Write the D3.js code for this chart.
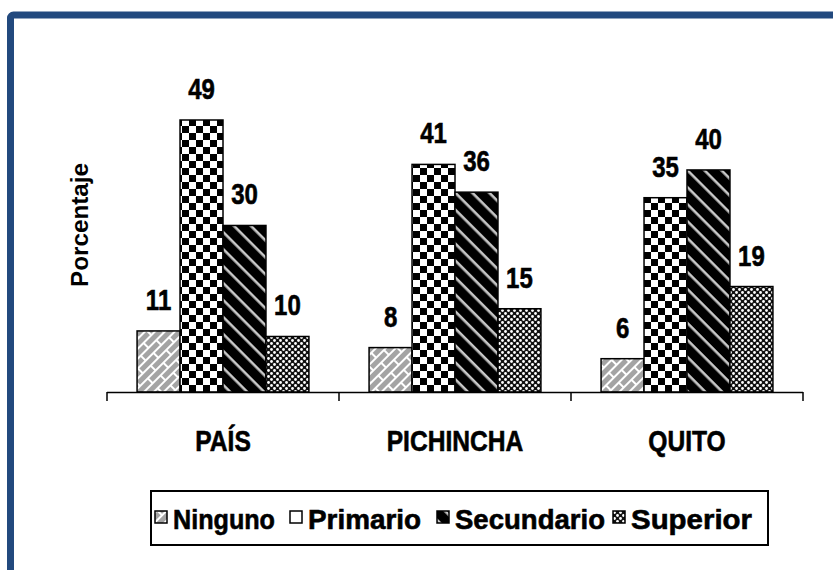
<!DOCTYPE html>
<html>
<meta charset="utf-8">
<style>
body { margin: 0; background: #fff; }
.lbl { font-family: "Liberation Sans", Arial, sans-serif; font-weight: bold; fill: #000; }
.heavy { stroke: #000; stroke-width: 0.6px; }
</style>
<svg id="chart" width="833" height="570"></svg>
<script src="https://d3js.org/d3.v7.min.js"></script>
<script>

var categories = ["PAÍS", "PICHINCHA", "QUITO"];
var series = ["Ninguno", "Primario", "Secundario", "Superior"];
var ninguno    = [11, 8, 6];
var primario   = [49, 41, 35];
var secundario = [30, 36, 40];
var superior   = [10, 15, 19];
var values = [ninguno, primario, secundario, superior];

var svg = d3.select("#chart");

// blue frame, runs off the right and bottom edge
svg.append("rect")
    .attr("x", 10.5).attr("y", 15).attr("rx", 3)
    .attr("width", 900).attr("height", 700)
    .attr("fill", "#fff")
    .attr("stroke", "#22497e")
    .attr("stroke-width", 7);

var defs = svg.append("defs");

// Ninguno: grey with white diagonal brick lines
var p1 = defs.append("pattern").attr("id", "p-ninguno")
    .attr("patternUnits", "userSpaceOnUse").attr("width", 22).attr("height", 14)
    .attr("patternTransform", "rotate(-45)");
p1.append("rect").attr("width", 22).attr("height", 14).attr("fill", "#a4a4a4");
p1.append("path").attr("d", "M0,1H22M0,8H22M2,1V8M13,8V15")
    .attr("stroke", "#fff").attr("stroke-width", 2).attr("fill", "none");

// Primario: checkerboard
var p2 = defs.append("pattern").attr("id", "p-primario")
    .attr("patternUnits", "userSpaceOnUse").attr("width", 14).attr("height", 14);
p2.append("rect").attr("width", 14).attr("height", 14).attr("fill", "#fff");
p2.append("rect").attr("width", 7).attr("height", 7).attr("fill", "#000");
p2.append("rect").attr("x", 7).attr("y", 7).attr("width", 7).attr("height", 7).attr("fill", "#000");

// Secundario: black with light diagonal stripes
var p3 = defs.append("pattern").attr("id", "p-secundario")
    .attr("patternUnits", "userSpaceOnUse").attr("width", 12).attr("height", 12)
    .attr("patternTransform", "rotate(45)");
p3.append("rect").attr("width", 12).attr("height", 12).attr("fill", "#000");
p3.append("rect").attr("y", 5).attr("width", 12).attr("height", 2.6).attr("fill", "#c8c8c8");

// Superior: fine dots
var p4 = defs.append("pattern").attr("id", "p-superior")
    .attr("patternUnits", "userSpaceOnUse").attr("width", 6).attr("height", 6);
p4.append("rect").attr("width", 6).attr("height", 6).attr("fill", "#111");
p4.append("circle").attr("cx", 1.5).attr("cy", 1.5).attr("r", 1.4).attr("fill", "#fff");
p4.append("circle").attr("cx", 4.5).attr("cy", 4.5).attr("r", 1.4).attr("fill", "#fff");

var fills = ["url(#p-ninguno)", "url(#p-primario)", "url(#p-secundario)", "url(#p-superior)"];

var x0 = d3.scaleBand().domain(categories).range([107, 803]).paddingInner(0).paddingOuter(0);
var x1 = d3.scaleBand().domain(series).range([0, x0.bandwidth()]).paddingInner(0).paddingOuter(0.7);
var y = d3.scaleLinear().domain([0, 49]).range([392, 120]);

var rows = [];
categories.forEach(function(c, i) {
  series.forEach(function(s, j) {
    rows.push({cat: c, key: s, idx: j, v: values[j][i]});
  });
});

var bars = svg.append("g");
bars.selectAll("rect")
  .data(rows)
  .enter().append("rect")
    .attr("x", function(d) { return x0(d.cat) + x1(d.key); })
    .attr("y", function(d) { return y(d.v); })
    .attr("width", x1.bandwidth())
    .attr("height", function(d) { return y(0) - y(d.v); })
    .attr("fill", function(d) { return fills[d.idx]; })
    .attr("stroke", "#000")
    .attr("stroke-width", 1.5);

// narrow bold look: squeeze Liberation Sans horizontally
svg.append("g").selectAll("text")
  .data(rows)
  .enter().append("text")
    .attr("class", "lbl heavy")
    .attr("transform", function(d) {
      return "translate(" + (x0(d.cat) + x1(d.key) + x1.bandwidth() / 2) + "," + (y(d.v) - 21) + ") scale(0.8,1)";
    })
    .attr("text-anchor", "middle")
    .style("font-size", "30px")
    .text(function(d) { return d.v; });

// x axis: domain line + ticks on band boundaries
var axis = svg.append("g");
axis.append("line")
    .attr("x1", x0.range()[0]).attr("x2", x0.range()[1])
    .attr("y1", y(0) + 0.5).attr("y2", y(0) + 0.5)
    .attr("stroke", "#000").attr("stroke-width", 1.5);
var bounds = categories.map(function(c) { return x0(c); }).concat([x0.range()[1]]);
axis.selectAll(".tick")
  .data(bounds)
  .enter().append("line")
    .attr("class", "tick")
    .attr("x1", function(d) { return d; }).attr("x2", function(d) { return d; })
    .attr("y1", y(0)).attr("y2", y(0) + 9)
    .attr("stroke", "#000").attr("stroke-width", 1.5);
axis.selectAll(".cat")
  .data(categories)
  .enter().append("text")
    .attr("class", "lbl heavy")
    .attr("transform", function(d) {
      return "translate(" + (x0(d) + x0.bandwidth() / 2) + ",451) scale(0.82,1)";
    })
    .attr("text-anchor", "middle")
    .style("font-size", "30px")
    .text(function(d) { return d; });

svg.append("text")
    .attr("class", "lbl")
    .attr("transform", "translate(88,225) rotate(-90)")
    .attr("text-anchor", "middle")
    .attr("textLength", 124)
    .attr("lengthAdjust", "spacingAndGlyphs")
    .style("font-size", "24px")
    .text("Porcentaje");

// legend
var legendX = [155, 290, 437, 613];
var legendW = [102, 113, 150, 121];
var legend = svg.append("g");
legend.append("rect")
    .attr("x", 151).attr("y", 491).attr("width", 617).attr("height", 54)
    .attr("fill", "none").attr("stroke", "#000").attr("stroke-width", 2);

var item = legend.selectAll(".item")
  .data(series)
  .enter().append("g")
    .attr("class", "item")
    .attr("transform", function(d, i) { return "translate(" + legendX[i] + ",511)"; });
item.append("rect")
    .attr("width", 12).attr("height", 12)
    .attr("fill", function(d, i) { return i === 1 ? "#fff" : fills[i]; })
    .attr("stroke", "#000").attr("stroke-width", 1.5);
item.append("text")
    .attr("class", "lbl heavy")
    .attr("x", 18).attr("y", 18)
    .attr("textLength", function(d, i) { return legendW[i]; })
    .attr("lengthAdjust", "spacingAndGlyphs")
    .style("font-size", "28px")
    .text(function(d) { return d; });

</script>
</html>
